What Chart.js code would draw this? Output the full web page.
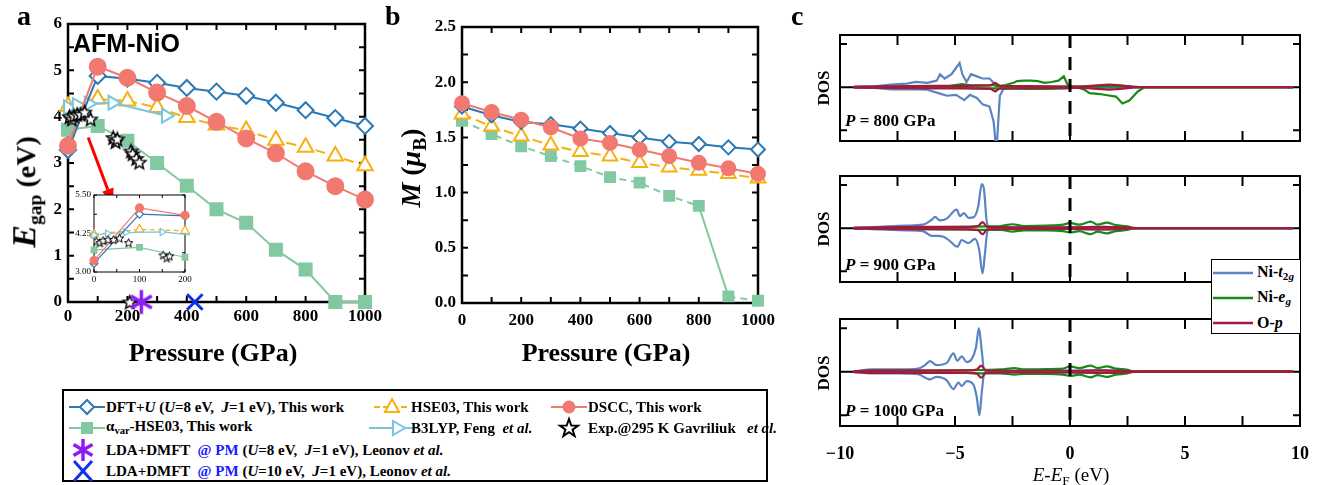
<!DOCTYPE html>
<html>
<head>
<meta charset="utf-8">
<title>AFM-NiO gap, moment and DOS</title>
<script src="https://cdn.jsdelivr.net/npm/chart.js@4.4.1/dist/chart.umd.min.js"></script>
<style>
  body { margin:0; width:1337px; height:485px; background:#fff; position:relative; overflow:hidden;
         font-family:'Liberation Serif', serif; font-weight:bold; color:#000; }
  canvas { position:absolute; }
  .t { position:absolute; white-space:nowrap; line-height:1; font-family:'Liberation Serif', serif; }
  .rot { transform:translate(-50%,-50%) rotate(-90deg); }
  .ctr { transform:translate(-50%,-50%); }
  .lft { transform:translateY(-50%); }
  sub { font-size:70%; vertical-align:-0.3em; }
  #leg { position:absolute; left:62px; top:389px; width:706px; height:93px; border:2px solid #000; box-sizing:border-box; }
  #legc { position:absolute; left:1211px; top:259px; width:90px; height:75px; border:1.5px solid #000; background:#fff; box-sizing:border-box; }
  svg { position:absolute; overflow:visible; }
</style>
</head>
<body>
<canvas id="cA" width="400" height="345" style="left:0;top:0"></canvas>
<canvas id="cIn" width="135" height="100" style="left:60px;top:185px"></canvas>
<canvas id="cB" width="400" height="345" style="left:390px;top:0"></canvas>
<canvas id="cD1" width="557" height="115" style="left:780px;top:30px"></canvas>
<canvas id="cD2" width="557" height="115" style="left:780px;top:171px"></canvas>
<canvas id="cD3" width="557" height="171" style="left:780px;top:314px"></canvas>

<!-- panel letters and titles -->
<div class="t" style="left:17px;top:2px;font-size:28px">a</div>
<div class="t" style="left:385px;top:2px;font-size:28px">b</div>
<div class="t" style="left:791px;top:2px;font-size:28px">c</div>
<div class="t" style="left:73px;top:31px;font-size:25px;font-family:'Liberation Sans',Arial,sans-serif">AFM-NiO</div>
<div class="t rot" style="left:26px;top:192px;font-size:28px"><i style="font-size:34px">E</i><sub>gap</sub> (eV)</div>
<div class="t rot" style="left:413px;top:168px;font-size:28px"><i>M</i> (<i>μ</i><sub>B</sub>)</div>
<div class="t ctr" style="left:213px;top:353px;font-size:26px">Pressure (GPa)</div>
<div class="t ctr" style="left:606px;top:353px;font-size:26px">Pressure (GPa)</div>

<div class="t rot" style="left:823px;top:88px;font-size:17px">DOS</div>
<div class="t rot" style="left:823px;top:229px;font-size:17px">DOS</div>
<div class="t rot" style="left:823px;top:373px;font-size:17px">DOS</div>
<div class="t lft" style="left:845px;top:120px;font-size:17px"><i>P</i> = 800 GPa</div>
<div class="t lft" style="left:845px;top:264px;font-size:17px"><i>P</i> = 900 GPa</div>
<div class="t lft" style="left:845px;top:410px;font-size:17px"><i>P</i> = 1000 GPa</div>
<div class="t ctr" style="left:1071px;top:476px;font-size:19px;font-weight:normal"><i>E</i>-<i>E</i><sub>F</sub> (eV)</div>

<div id="legc">
  <svg style="left:1px;top:12px" width="40" height="2"><line x1="0" y1="1" x2="40" y2="1" stroke="#5b84c4" stroke-width="2.5"/></svg>
  <div class="t lft" style="left:45px;top:13px;font-size:16px">Ni-<i>t</i><sub>2<i>g</i></sub></div>
  <svg style="left:1px;top:37px" width="40" height="2"><line x1="0" y1="1" x2="40" y2="1" stroke="#178a17" stroke-width="2.5"/></svg>
  <div class="t lft" style="left:45px;top:38px;font-size:16px">Ni-<i>e</i><sub><i>g</i></sub></div>
  <svg style="left:1px;top:62px" width="40" height="2"><line x1="0" y1="1" x2="40" y2="1" stroke="#a31b3c" stroke-width="2.5"/></svg>
  <div class="t lft" style="left:45px;top:63px;font-size:16px">O-<i>p</i></div>
</div>

<div id="leg"></div>

<script>
// ---------------- data: panel a (band gap, eV) ----------------
const pressure = [0, 100, 200, 300, 400, 500, 600, 700, 800, 900, 1000];
const gapDftU = [3.28, 4.88, 4.82, 4.73, 4.62, 4.54, 4.45, 4.30, 4.14, 3.97, 3.80];
const gapHse  = [4.22, 4.38, 4.34, 4.20, 3.98, 3.82, 3.70, 3.49, 3.34, 3.15, 2.94];
const gapDscc = [3.37, 5.08, 4.84, 4.52, 4.23, 3.89, 3.53, 3.21, 2.82, 2.50, 2.21];
const gapAvar = [3.72, 3.80, 3.48, 3.00, 2.51, 2.00, 1.71, 1.13, 0.70, 0.00, 0.00];
const pB3lyp  = [0, 30, 70, 150, 330];
const gapB3lyp = [4.20, 4.25, 4.28, 4.30, 4.02];
const pExp    = [5, 13, 20, 31, 43, 56, 76, 152, 160, 166, 212, 218, 230, 240, 208];
const gapExp  = [4.00, 3.95, 4.02, 4.05, 4.05, 4.10, 3.95, 3.55, 3.46, 3.52, 3.26, 3.20, 3.10, 3.02, 0.00];
const pDmft8 = [247], gapDmft8 = [0];
const pDmft10 = [427], gapDmft10 = [0];

// ---------------- data: panel b (moment, muB) ----------------
const momDftU = [1.78, 1.70, 1.64, 1.62, 1.58, 1.54, 1.50, 1.46, 1.44, 1.41, 1.39];
const momHse  = [1.71, 1.60, 1.51, 1.43, 1.37, 1.33, 1.27, 1.23, 1.20, 1.17, 1.13];
const momDscc = [1.81, 1.73, 1.66, 1.59, 1.49, 1.45, 1.39, 1.33, 1.27, 1.22, 1.17];
const momAvar = [1.65, 1.53, 1.42, 1.33, 1.24, 1.14, 1.09, 0.97, 0.88, 0.06, 0.02];

// ---------------- data: panel c (projected DOS, [E-EF, DOS]) ----------------
const t2gUp800 = [[-9.4,0],[-8.5,0.02],[-7.8,0.06],[-7.1,0.08],[-6.7,0.12],[-6.2,0.1],[-5.8,0.15],[-5.65,0.3],[-5.45,0.2],[-5.15,0.3],[-4.95,0.45],[-4.8,0.56],[-4.68,0.3],[-4.5,0.12],[-4.3,0.3],[-4.05,0.25],[-3.8,0.2],[-3.5,0.2],[-3.32,0.1],[-3.2,0.02],[-2.9,0.01],[-1,0.01],[0.5,0.01],[1.5,0.03],[2.4,0.02],[2.8,0],[9.7,0]];
const t2gDn800 = [[-9.4,0],[-8.5,-0.02],[-7.8,-0.05],[-6.7,-0.05],[-6.2,-0.06],[-5.65,-0.15],[-5.35,-0.2],[-4.95,-0.18],[-4.6,-0.3],[-4.35,-0.18],[-4.05,-0.25],[-3.8,-0.4],[-3.5,-0.45],[-3.32,-0.8],[-3.2,-1.5],[-3.05,-0.2],[-2.9,-0.05],[-2.6,-0.01],[0.5,-0.01],[1.5,-0.03],[2.4,-0.02],[2.8,0],[9.7,0]];
const egUp800  = [[-9.4,0],[-7,0.01],[-5.2,0.03],[-4.7,0.07],[-4.3,0.04],[-3.6,0.04],[-3.3,0.05],[-3.2,0.02],[-2.8,0.05],[-2.45,0.1],[-2.3,0.14],[-2.0,0.15],[-1.7,0.15],[-1.4,0.14],[-1.1,0.1],[-0.8,0.12],[-0.5,0.15],[-0.27,0.25],[-0.1,0.05],[0.2,0],[0.6,0.01],[1.5,0.02],[2.5,0.01],[3,0],[9.7,0]];
const egDn800  = [[-9.4,0],[-5,-0.02],[-3.3,-0.03],[-2,-0.04],[-1,-0.04],[-0.1,-0.03],[0.3,0],[0.63,-0.06],[0.85,-0.14],[1.3,-0.16],[1.75,-0.2],[2.0,-0.22],[2.28,-0.38],[2.58,-0.31],[2.95,-0.1],[3.25,0],[9.7,0]];
const opUp800  = [[-9.4,0.01],[-8,0.02],[-6,0.03],[-4.5,0.03],[-3.45,0.04],[-3.25,0.1],[-3.05,0.03],[-1,0.02],[0,0.01],[0.6,0.02],[1.2,0.04],[1.7,0.06],[2.2,0.04],[2.7,0.01],[3,0],[9.7,0]];
const opDn800  = [[-9.4,-0.01],[-8,-0.02],[-6,-0.03],[-4.5,-0.03],[-3.45,-0.04],[-3.25,-0.1],[-3.05,-0.03],[-1,-0.02],[0,-0.01],[0.6,-0.02],[1.2,-0.04],[1.7,-0.06],[2.2,-0.04],[2.7,-0.01],[3,0],[9.7,0]];

const t2gUp900 = [[-9.4,0],[-8.3,0.03],[-7.1,0.06],[-6.4,0.08],[-6.0,0.2],[-5.87,0.26],[-5.65,0.18],[-5.36,0.22],[-4.93,0.43],[-4.78,0.28],[-4.61,0.35],[-4.42,0.24],[-4.2,0.25],[-3.99,0.5],[-3.84,1.02],[-3.74,0.9],[-3.62,0.15],[-3.5,0.02],[-3,0.01],[0,0.02],[1,0.03],[2.5,0.01],[3,0],[9.7,0]];
const t2gDn900 = [[-9.4,0],[-8.3,-0.03],[-7.1,-0.05],[-6.4,-0.07],[-6.0,-0.18],[-5.8,-0.18],[-5.5,-0.2],[-5.22,-0.3],[-4.9,-0.43],[-4.71,-0.28],[-4.42,-0.35],[-4.13,-0.25],[-3.95,-0.5],[-3.8,-1.05],[-3.7,-0.6],[-3.58,-0.05],[-3,-0.01],[0,-0.02],[1,-0.03],[2.5,-0.01],[3,0],[9.7,0]];
const egUp900  = [[-9.4,0],[-6,0.02],[-4.5,0.03],[-3.7,0.04],[-3,0.05],[-2.5,0.09],[-2,0.05],[-1,0.06],[-0.3,0.08],[0,0.12],[0.4,0.08],[0.9,0.15],[1.2,0.08],[1.6,0.13],[2.0,0.07],[2.5,0.04],[2.8,0],[9.7,0]];
const egDn900  = [[-9.4,0],[-6,-0.02],[-4.5,-0.03],[-3.7,-0.04],[-3,-0.04],[-2.5,-0.08],[-2,-0.05],[-1,-0.05],[-0.3,-0.07],[0,-0.1],[0.4,-0.07],[0.9,-0.14],[1.2,-0.08],[1.6,-0.12],[2.0,-0.07],[2.5,-0.04],[2.8,0],[9.7,0]];
const opUp900  = [[-9.4,0.01],[-8,0.02],[-6,0.03],[-4.5,0.03],[-4.0,0.05],[-3.8,0.14],[-3.6,0.03],[-2,0.02],[0,0.02],[1.5,0.03],[2.6,0.01],[3,0],[9.7,0]];
const opDn900  = [[-9.4,-0.01],[-8,-0.02],[-6,-0.03],[-4.5,-0.03],[-4.0,-0.05],[-3.8,-0.14],[-3.6,-0.03],[-2,-0.02],[0,-0.02],[1.5,-0.03],[2.6,-0.01],[3,0],[9.7,0]];

const t2gUp1000 = [[-9.4,0],[-8.6,0.05],[-7.5,0.05],[-6.6,0.07],[-6.3,0.15],[-6.09,0.24],[-5.8,0.15],[-5.36,0.2],[-5.07,0.42],[-4.9,0.25],[-4.71,0.35],[-4.49,0.22],[-4.28,0.28],[-4.09,0.55],[-3.96,1.0],[-3.84,0.5],[-3.74,0.05],[-3.5,0.01],[0,0.02],[1,0.03],[2.5,0.01],[3,0],[9.7,0]];
const t2gDn1000 = [[-9.4,0],[-8.6,-0.04],[-7.5,-0.04],[-6.6,-0.06],[-6.09,-0.18],[-5.8,-0.12],[-5.36,-0.2],[-5.07,-0.4],[-4.85,-0.25],[-4.71,-0.33],[-4.49,-0.22],[-4.2,-0.3],[-4.05,-0.6],[-3.94,-1.0],[-3.84,-0.5],[-3.72,-0.02],[-3.5,0],[0,-0.02],[1,-0.03],[2.5,-0.01],[3,0],[9.7,0]];
const egUp1000  = [[-9.4,0],[-6,0.02],[-4.5,0.03],[-3.7,0.04],[-3,0.05],[-2.4,0.08],[-2,0.05],[-1,0.06],[-0.3,0.07],[0,0.12],[0.4,0.08],[0.9,0.14],[1.2,0.08],[1.6,0.12],[2.0,0.07],[2.5,0.04],[2.8,0],[9.7,0]];
const egDn1000  = [[-9.4,0],[-6,-0.02],[-4.5,-0.03],[-3.7,-0.04],[-3,-0.04],[-2.4,-0.07],[-2,-0.05],[-1,-0.05],[-0.3,-0.07],[0,-0.1],[0.4,-0.07],[0.9,-0.13],[1.2,-0.08],[1.6,-0.12],[2.0,-0.07],[2.5,-0.04],[2.8,0],[9.7,0]];
const opUp1000  = [[-9.4,0.01],[-8.6,0.03],[-6,0.03],[-4.5,0.03],[-4.05,0.05],[-3.86,0.14],[-3.66,0.03],[-2,0.02],[0,0.02],[1.5,0.03],[2.6,0.01],[3,0],[9.7,0]];
const opDn1000  = [[-9.4,-0.01],[-8.6,-0.03],[-6,-0.03],[-4.5,-0.03],[-4.05,-0.05],[-3.86,-0.14],[-3.66,-0.03],[-2,-0.02],[0,-0.02],[1.5,-0.03],[2.6,-0.01],[3,0],[9.7,0]];

// ---------------- style ----------------
const C = { blue:'#2b78b4', orange:'#f7b010', pink:'#f27970', green:'#82c9a1', cyan:'#79c5df',
            purple:'#8f1bf5', dmftBlue:'#1030f0', t2g:'#5b84c4', eg:'#178a17', op:'#a31b3c' };
Chart.defaults.font.family = "'Liberation Serif', serif";
Chart.defaults.font.weight = 'bold';
Chart.defaults.color = '#000';
Chart.defaults.animation = false;

function pts(xs, ys) { return xs.map((x, i) => ({ x, y: ys[i] })); }
function pairs(arr) { return arr.map(p => ({ x: p[0], y: p[1] })); }

// open 5-point star and 6-spoke asterisk as point images
function starImage(r, lw) {
  const s = Math.ceil(2 * r + 2 * lw), c = document.createElement('canvas');
  c.width = c.height = s;
  const g = c.getContext('2d');
  g.translate(s / 2, s / 2 + r * 0.1);
  g.beginPath();
  for (let i = 0; i < 10; i++) {
    const rad = i % 2 ? r * 0.45 : r, a = -Math.PI / 2 + i * Math.PI / 5;
    g.lineTo(rad * Math.cos(a), rad * Math.sin(a));
  }
  g.closePath();
  g.fillStyle = '#fff'; g.fill();
  g.lineWidth = lw; g.strokeStyle = '#000'; g.stroke();
  return c;
}
function asteriskImage(r, lw, color) {
  const s = Math.ceil(2 * r + 2 * lw), c = document.createElement('canvas');
  c.width = c.height = s;
  const g = c.getContext('2d');
  g.translate(s / 2, s / 2);
  g.strokeStyle = color; g.lineWidth = lw;
  g.beginPath();
  [90, 30, 150].forEach(d => {
    const a = d * Math.PI / 180;
    g.moveTo(-r * Math.cos(a), -r * Math.sin(a)); g.lineTo(r * Math.cos(a), r * Math.sin(a));
  });
  g.stroke();
  return c;
}

// box with inward ticks on all four sides
function tickList(min, max, step, len) {
  const out = [];
  for (let v = min; v <= max + 1e-9; v += step) out.push([v, len]);
  return out;
}
const framePlugin = {
  id: 'frame',
  beforeDatasetsDraw(chart, args, o) {
    const { ctx, chartArea: a } = chart;
    const xs = chart.scales.x, ys = chart.scales.y;
    ctx.save();
    if (o.fill) { ctx.fillStyle = o.fill; ctx.fillRect(a.left, a.top, a.width, a.height); }
    ctx.strokeStyle = '#000';
    ctx.lineWidth = o.tickWidth || o.width;
    ctx.beginPath();
    (o.xTicks || []).forEach(([v, len]) => {
      const p = xs.getPixelForValue(v);
      ctx.moveTo(p, a.bottom); ctx.lineTo(p, a.bottom - len);
      ctx.moveTo(p, a.top); ctx.lineTo(p, a.top + len);
    });
    (o.yTicks || []).forEach(([v, len]) => {
      const p = ys.getPixelForValue(v);
      ctx.moveTo(a.left, p); ctx.lineTo(a.left + len, p);
      ctx.moveTo(a.right, p); ctx.lineTo(a.right - len, p);
    });
    ctx.stroke();
    ctx.lineWidth = o.width;
    ctx.strokeRect(a.left, a.top, a.width, a.height);
    ctx.restore();
  },
  afterDatasetsDraw(chart, args, o) {
    const { ctx, chartArea: a } = chart;
    const xs = chart.scales.x, ys = chart.scales.y;
    if (o.zeroLine) {
      const p = xs.getPixelForValue(0);
      ctx.save();
      ctx.strokeStyle = '#000'; ctx.lineWidth = 3; ctx.setLineDash([13, 9]);
      ctx.beginPath(); ctx.moveTo(p, a.top); ctx.lineTo(p, a.bottom); ctx.stroke();
      ctx.restore();
    }
    if (o.arrow) {
      const x0 = xs.getPixelForValue(o.arrow.from[0]), y0 = ys.getPixelForValue(o.arrow.from[1]);
      const x1 = xs.getPixelForValue(o.arrow.to[0]), y1 = ys.getPixelForValue(o.arrow.to[1]);
      const ang = Math.atan2(y1 - y0, x1 - x0), hl = 16, hw = 6;
      ctx.save();
      ctx.strokeStyle = ctx.fillStyle = '#ff0000';
      ctx.lineWidth = 3;
      ctx.beginPath(); ctx.moveTo(x0, y0);
      ctx.lineTo(x1 - hl * Math.cos(ang), y1 - hl * Math.sin(ang)); ctx.stroke();
      ctx.beginPath(); ctx.moveTo(x1, y1);
      ctx.lineTo(x1 - hl * Math.cos(ang) + hw * Math.sin(ang), y1 - hl * Math.sin(ang) - hw * Math.cos(ang));
      ctx.lineTo(x1 - hl * Math.cos(ang) - hw * Math.sin(ang), y1 - hl * Math.sin(ang) + hw * Math.cos(ang));
      ctx.closePath(); ctx.fill();
      ctx.restore();
    }
  }
};

// ---------------- dataset builders ----------------
function series(kind, data, s) {
  const base = {
    dftU:  { label:'DFT+U', borderColor:C.blue, pointBackgroundColor:'#fff', pointStyle:'rectRot', order:2 },
    hse:   { label:'HSE03', borderColor:C.orange, pointBackgroundColor:'#fff', pointStyle:'triangle', borderDash:[10,5], order:4 },
    dscc:  { label:'DSCC', borderColor:C.pink, pointBackgroundColor:C.pink, pointStyle:'circle', order:1 },
    b3lyp: { label:'B3LYP', borderColor:C.cyan, pointBackgroundColor:'#fff', pointStyle:'triangle', pointRotation:90, order:3 },
    avar:  { label:'avar-HSE03', borderColor:C.green, pointBackgroundColor:C.green, pointStyle:'rect', order:5 }
  }[kind];
  return Object.assign({ data, borderWidth:2, pointBorderWidth:2, pointBorderColor:base.borderColor,
                         backgroundColor:'#fff', pointRadius:8, pointHoverRadius:8 }, base, s);
}

function axisFit(w, h) {
  return {
    x: s => { s.height = h; s.paddingLeft = 0; s.paddingRight = 0; },
    y: s => { s.width = w; s.paddingTop = 0; s.paddingBottom = 0; }
  };
}

// ---------------- panel a ----------------
const fitA = axisFit(68, 43);
new Chart(document.getElementById('cA'), {
  type: 'line',
  data: { datasets: [
    series('dscc', pts(pressure, gapDscc), { clip:false }),
    series('dftU', pts(pressure, gapDftU), { clip:false }),
    series('hse', pts(pressure, gapHse), { clip:false, pointRadius:9 }),
    series('b3lyp', pts(pB3lyp, gapB3lyp), { clip:false }),
    series('avar', pts(pressure, gapAvar), { clip:false, pointRadius:8.5 }),
    { type:'scatter', label:'Exp', data:pts(pExp, gapExp), pointStyle:starImage(7, 1.5), order:0, clip:false },
    { type:'scatter', label:'DMFT U=8', data:pts(pDmft8, gapDmft8), pointStyle:asteriskImage(12, 3.5, C.purple), order:-1, clip:false },
    { type:'scatter', label:'DMFT U=10', data:pts(pDmft10, gapDmft10), pointStyle:'crossRot', pointRadius:11,
      borderColor:C.dmftBlue, pointBorderWidth:3, order:-1, clip:false }
  ]},
  options: {
    responsive:false, devicePixelRatio:1,
    layout: { padding: { left:0, top:24, right:35, bottom:0 } },
    plugins: {
      legend: { display:false }, tooltip: { enabled:false },
      frame: { width:2.5, tickWidth:2, xTicks:tickList(0, 1000, 100, 6), yTicks:tickList(0, 6, 0.5, 6),
               arrow: { from:[68, 3.55], to:[153, 2.1] } }
    },
    scales: {
      x: { type:'linear', min:0, max:1000, afterFit:fitA.x, grid:{ display:false, drawTicks:false }, border:{ display:false },
           ticks:{ stepSize:200, padding:4, font:{ size:17 }, callback:v => String(v) } },
      y: { min:0, max:6, afterFit:fitA.y, grid:{ display:false, drawTicks:false }, border:{ display:false },
           ticks:{ stepSize:1, padding:6, font:{ size:17 }, callback:v => String(v) } }
    }
  },
  plugins: [framePlugin]
});

// ---------------- inset of panel a ----------------
const fitIn = axisFit(34, 13);
const small = { pointRadius:4, pointBorderWidth:1.2, borderWidth:1.2, clip:5 };
new Chart(document.getElementById('cIn'), {
  type: 'line',
  data: { datasets: [
    series('dscc', pts(pressure, gapDscc), small),
    series('dftU', pts(pressure, gapDftU), small),
    series('hse', pts(pressure, gapHse), Object.assign({}, small, { pointRadius:5, borderDash:[5,3] })),
    series('b3lyp', pts(pB3lyp, gapB3lyp), small),
    series('avar', pts(pressure, gapAvar), small),
    { type:'scatter', label:'Exp', data:pts(pExp, gapExp), pointStyle:starImage(4.5, 1), order:0, clip:0 }
  ]},
  options: {
    responsive:false, devicePixelRatio:1,
    layout: { padding: { left:0, top:10, right:10, bottom:0 } },
    plugins: {
      legend:{ display:false }, tooltip:{ enabled:false },
      frame: { width:1, fill:'#fff', xTicks:tickList(0, 200, 50, 3), yTicks:tickList(3, 5.5, 0.625, 3) }
    },
    scales: {
      x: { type:'linear', min:0, max:200, afterFit:fitIn.x, grid:{ display:false, drawTicks:false }, border:{ display:false },
           ticks:{ stepSize:100, padding:2, font:{ size:9, weight:'normal' }, callback:v => String(v) } },
      y: { min:3, max:5.5, afterFit:fitIn.y, grid:{ display:false, drawTicks:false }, border:{ display:false },
           ticks:{ stepSize:1.25, padding:3, font:{ size:9, weight:'normal' }, callback:v => v.toFixed(2) } }
    }
  },
  plugins: [framePlugin]
});

// ---------------- panel b ----------------
const fitB = axisFit(72, 42);
const bPts = { clip:false, pointRadius:7, borderWidth:2 };
new Chart(document.getElementById('cB'), {
  type: 'line',
  data: { datasets: [
    series('dscc', pts(pressure, momDscc), bPts),
    series('dftU', pts(pressure, momDftU), bPts),
    series('hse', pts(pressure, momHse), Object.assign({}, bPts, { pointRadius:8.5 })),
    series('avar', pts(pressure, momAvar), Object.assign({}, bPts, { borderDash:[7,5],
      segment:{ borderDash: ctx => ctx.p0.parsed.x === 800 ? [] : [7,5] } }))
  ]},
  options: {
    responsive:false, devicePixelRatio:1,
    layout: { padding: { left:0, top:27, right:32, bottom:0 } },
    plugins: {
      legend:{ display:false }, tooltip:{ enabled:false },
      frame: { width:2.5, tickWidth:2, xTicks:tickList(0, 1000, 100, 6), yTicks:tickList(0, 2.5, 0.25, 6) }
    },
    scales: {
      x: { type:'linear', min:0, max:1000, afterFit:fitB.x, grid:{ display:false, drawTicks:false }, border:{ display:false },
           ticks:{ stepSize:200, padding:7, font:{ size:17 }, callback:v => String(v) } },
      y: { min:0, max:2.5, afterFit:fitB.y, grid:{ display:false, drawTicks:false }, border:{ display:false },
           ticks:{ stepSize:0.5, padding:6, font:{ size:17 }, callback:v => v.toFixed(1) } }
    }
  },
  plugins: [framePlugin]
});

// ---------------- panel c ----------------
function curve(arr, color, order, smooth) {
  return { data:pairs(arr), borderColor:color, borderWidth:2.2, pointRadius:0, order,
           cubicInterpolationMode: smooth ? 'monotone' : 'default', tension:0 };
}
function dosChart(id, s, last, smooth) {
  return new Chart(document.getElementById(id), {
    type: 'line',
    data: { datasets: [
      curve(s.opUp, C.op, 0, smooth), curve(s.opDn, C.op, 0, smooth),
      curve(s.egUp, C.eg, 1, smooth), curve(s.egDn, C.eg, 1, smooth),
      curve(s.t2gUp, C.t2g, 2, smooth), curve(s.t2gDn, C.t2g, 2, smooth)
    ]},
    options: {
      responsive:false, devicePixelRatio:1,
      layout: { padding: { left:60, top:5, right:37, bottom: last ? 0 : 4 } },
      plugins: {
        legend:{ display:false }, tooltip:{ enabled:false },
        frame: { width:2, xTicks:tickList(-7.5, 7.5, 2.5, 10), yTicks:[[-1, 7], [0, 14], [1, 7]], zeroLine:true }
      },
      scales: {
        x: { type:'linear', min:-10, max:10, display:last,
             afterFit: sc => { sc.height = last ? 59 : 0; sc.paddingLeft = 0; sc.paddingRight = 0; },
             grid:{ display:false, drawTicks:false }, border:{ display:false },
             ticks:{ stepSize:5, padding:18, font:{ size:18 }, callback:v => v < 0 ? '\u2212' + (-v) : String(v) } },
        y: { min:-1.25, max:1.21, display:false }
      }
    },
    plugins: [framePlugin]
  });
}
dosChart('cD1', { t2gUp:t2gUp800, t2gDn:t2gDn800, egUp:egUp800, egDn:egDn800, opUp:opUp800, opDn:opDn800 }, false, false);
dosChart('cD2', { t2gUp:t2gUp900, t2gDn:t2gDn900, egUp:egUp900, egDn:egDn900, opUp:opUp900, opDn:opDn900 }, false, true);
dosChart('cD3', { t2gUp:t2gUp1000, t2gDn:t2gDn1000, egUp:egUp1000, egDn:egDn1000, opUp:opUp1000, opDn:opDn1000 }, true, true);

// ---------------- legend for panels a and b ----------------
const legendRows = [
  { x:5,   y:16, icon:'diamond',  color:C.blue,     html:'DFT+<i>U</i> (<i>U</i>=8 eV, &nbsp;<i>J</i>=1 eV), This work' },
  { x:310, y:16, icon:'triangle', color:C.orange,   html:'HSE03, This work', dash:true },
  { x:487, y:16, icon:'circle',   color:C.pink,     html:'DSCC, This work' },
  { x:5,   y:37, icon:'square',   color:C.green,    html:'α<sub>var</sub>-HSE03, This work' },
  { x:310, y:37, icon:'right',    color:C.cyan,     html:'B3LYP, Feng &nbsp;<i>et al.</i>' },
  { x:487, y:37, icon:'star',     color:'#000',     html:'Exp.@295 K Gavriliuk &nbsp;&nbsp;<i>et al.</i>' },
  { x:5,   y:59, icon:'asterisk', color:C.purple,   html:'LDA+DMFT &nbsp;<span style="color:#1a1aff">@ PM</span> (<i>U</i>=8 eV, &nbsp;<i>J</i>=1 eV), Leonov <i>et al.</i>' },
  { x:5,   y:80, icon:'cross',    color:C.dmftBlue, html:'LDA+DMFT &nbsp;<span style="color:#1a1aff">@ PM</span> (<i>U</i>=10 eV, &nbsp;<i>J</i>=1 eV), Leonov <i>et al.</i>' }
];
function iconSvg(r) {
  const c = r.color, line = `<line x1="0" y1="10" x2="36" y2="10" stroke="${c}" stroke-width="2"${r.dash ? ' stroke-dasharray="6,3"' : ''}/>`;
  const shapes = {
    diamond:  line + `<polygon points="18,3 25,10 18,17 11,10" fill="#fff" stroke="${c}" stroke-width="2"/>`,
    triangle: line + `<polygon points="18,2 25,15 11,15" fill="#fff" stroke="${c}" stroke-width="2"/>`,
    circle:   line + `<circle cx="18" cy="10" r="6.5" fill="${c}"/>`,
    square:   line + `<rect x="12" y="4" width="12" height="12" fill="${c}"/>`,
    right:    `<line x1="-5" y1="10" x2="44" y2="10" stroke="${c}" stroke-width="2"/><polygon points="19,3 31,10 19,17" fill="#fff" stroke="${c}" stroke-width="2"/>`,
    star:     `<polygon points="18,1 20.3,7.5 27,7.6 21.6,11.6 23.6,18 18,14.2 12.4,18 14.4,11.6 9,7.6 15.7,7.5" fill="#fff" stroke="#000" stroke-width="2"/>`,
    asterisk: `<g stroke="${c}" stroke-width="3.5"><line x1="14" y1="-1" x2="14" y2="21"/><line x1="4.5" y1="4.5" x2="23.5" y2="15.5"/><line x1="4.5" y1="15.5" x2="23.5" y2="4.5"/></g>`,
    cross:    `<g stroke="${c}" stroke-width="3"><line x1="5" y1="0" x2="23" y2="20"/><line x1="5" y1="20" x2="23" y2="0"/></g>`
  };
  return `<svg style="left:${r.x}px;top:${r.y - 10}px" width="36" height="20">${shapes[r.icon]}</svg>`;
}
document.getElementById('leg').innerHTML = legendRows.map(r =>
  iconSvg(r) + `<div class="t lft" style="left:${r.x + 37}px;top:${r.y}px;font-size:15px">${r.html}</div>`
).join('');
</script>
</body>
</html>
